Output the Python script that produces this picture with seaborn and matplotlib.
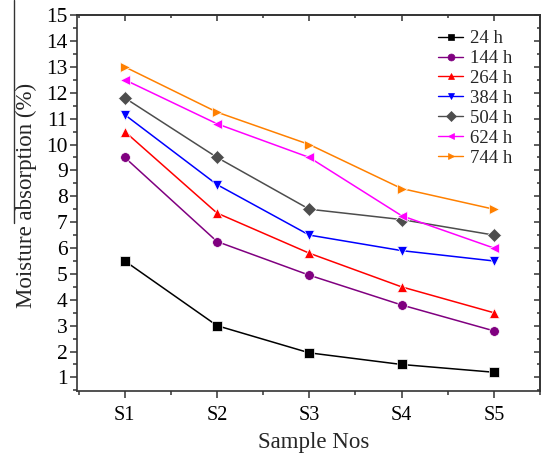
import matplotlib
matplotlib.use("Agg")
import matplotlib.pyplot as plt
import seaborn as sns
import pandas as pd
from matplotlib.ticker import MultipleLocator, NullFormatter
from matplotlib.lines import Line2D

samples = ["S1", "S2", "S3", "S4", "S5"]
series_names = ["24 h", "144 h", "264 h", "384 h", "504 h", "624 h", "744 h"]
v24 = [5.5, 3.0, 1.95, 1.5, 1.2]
v144 = [9.5, 6.25, 4.95, 3.8, 2.8]
v264 = [10.5, 7.35, 5.8, 4.5, 3.5]
v384 = [11.15, 8.45, 6.5, 5.9, 5.5]
v504 = [11.8, 9.5, 7.5, 7.1, 6.5]
v624 = [12.5, 10.8, 9.5, 7.25, 6.0]
v744 = [13.0, 11.25, 10.0, 8.3, 7.5]
values = [v24, v144, v264, v384, v504, v624, v744]

colors = ["#000000", "#800080", "#ff0000", "#0000ff", "#4d4d4d", "#ff00ff", "#ff8000"]
markers = ["s", "o", "^", "v", "D", "<", ">"]

rows = []
for name, vals in zip(series_names, values):
    for i, v in enumerate(vals):
        rows.append({"x": i + 1, "value": v, "series": name})
df = pd.DataFrame(rows)

sns.set_style("white")
plt.rcParams["font.family"] = ["Liberation Serif", "DejaVu Serif"]

fig = plt.figure(figsize=(5.41, 4.58), dpi=100)
ax = fig.add_axes([0.142, 0.146, 0.856, 0.821])

sns.lineplot(data=df, x="x", y="value", hue="series", style="series",
             hue_order=series_names, style_order=series_names,
             palette=dict(zip(series_names, colors)),
             markers=dict(zip(series_names, markers)),
             dashes=False, markersize=7, linewidth=1.1,
             markeredgewidth=0.5, ax=ax, legend=False)

ax.set_xlim(0.48, 5.5)
ax.set_ylim(0.47, 15)
ax.set_xticks([1, 2, 3, 4, 5])
ax.set_xticklabels(samples)
ax.xaxis.set_minor_locator(MultipleLocator(0.5))
ax.yaxis.set_major_locator(MultipleLocator(1))
ax.yaxis.set_minor_locator(MultipleLocator(0.5))
ax.tick_params(axis="both", which="major", direction="out", length=5, width=1.1,
               color="#333333", labelcolor="black",
               bottom=True, left=True, top=False, right=False)
ax.tick_params(axis="x", which="major", labelsize=14.5, pad=6)
ax.tick_params(axis="y", which="major", labelsize=15.5, pad=1.5)
ax.tick_params(axis="both", which="minor", direction="out", length=3, width=1.1,
               color="#333333", bottom=True, left=True, top=False, right=False)
ax.set_xlabel("Sample Nos", fontsize=16.5)
ax.set_ylabel("Moisture absorption (%)", fontsize=16.5)
ax.xaxis.set_label_coords(0.512, -0.11)
ax.yaxis.set_label_coords(-0.0857, 0.52)
for s in ax.spines.values():
    s.set_visible(True)
    s.set_color("#333333")
    s.set_linewidth(1.2)

# mirrored inward ticks on top and right
topax = ax.secondary_xaxis("top")
topax.set_xticks([1, 2, 3, 4, 5])
topax.xaxis.set_minor_locator(MultipleLocator(0.5))
topax.xaxis.set_major_formatter(NullFormatter())
topax.tick_params(which="major", direction="in", length=4, width=1.1, color="#333333", top=True)
topax.tick_params(which="minor", direction="in", length=2.5, width=1.1, color="#333333", top=True)
rightax = ax.secondary_yaxis("right")
rightax.yaxis.set_major_locator(MultipleLocator(1))
rightax.yaxis.set_minor_locator(MultipleLocator(0.5))
rightax.yaxis.set_major_formatter(NullFormatter())
rightax.tick_params(which="major", direction="in", length=4, width=1.1, color="#333333", right=True)
rightax.tick_params(which="minor", direction="in", length=2.5, width=1.1, color="#333333", right=True)
for sec in (topax, rightax):
    for s in sec.spines.values():
        s.set_color("#333333")
        s.set_linewidth(1.2)

handles = [Line2D([], [], color=c, marker=m, markersize=5, linewidth=1.0,
                  markeredgewidth=0.5)
           for c, m in zip(colors, markers)]
ax.legend(handles, series_names, loc="upper left",
          bbox_to_anchor=(438 / 541, 1 - 30 / 458), bbox_transform=fig.transFigure,
          frameon=False, fontsize=13.5, handlelength=1.35, handletextpad=0.35,
          labelspacing=0.15, borderpad=0, borderaxespad=0)

fig.add_artist(Line2D([0.026, 0.026], [0.513, 1.0], transform=fig.transFigure,
                      color="#333333", linewidth=1.0))

fig.savefig("out.png", dpi=100)
